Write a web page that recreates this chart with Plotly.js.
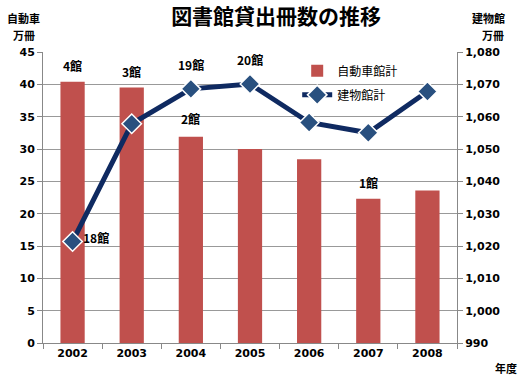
<!DOCTYPE html>
<html><head><meta charset="utf-8">
<script src="https://cdn.plot.ly/plotly-3.0.1.min.js"></script>
<style>body{margin:0;background:#fff}#c{width:521px;height:381px}</style>
</head><body><div id="c"></div>
<script>
const years = ['2002','2003','2004','2005','2006','2007','2008'];
const carLib = [40.4, 39.5, 31.9, 30.0, 28.4, 22.3, 23.6];
const bldLib = [1021.4, 1057.8, 1068.6, 1070.1, 1058.2, 1055.0, 1067.8];
const carCount = ['4館','3館','2館','','','1館',''];
const bldCount = ['18館','','19館','20館','','',''];

const F = '"DejaVu Sans", "Noto Sans CJK JP", sans-serif';
const J = '"Noto Sans CJK JP", sans-serif';

const traces = [
  {type:'bar', x:years, y:carLib, name:'自動車館計', marker:{color:'#c0504d'}, yaxis:'y', legendgroup:'a'},
  {type:'scatter', mode:'lines+markers', x:years, y:bldLib, name:'建物館計', yaxis:'y2', legendgroup:'b',
   line:{color:'#0f2a61', width:5},
   marker:{symbol:'diamond', size:15, color:'#29507f', line:{color:'#ffffff', width:1.5}}}
];

const ann = [];
carCount.forEach((t,i)=>{ if(t) ann.push({x:i, y:carLib[i], xref:'x', yref:'y', text:'<b>'+t+'</b>', showarrow:false, yanchor:'bottom', yshift:i===2?8:6, font:{family:J, size:12, color:'#000'}}); });
bldCount.forEach((t,i)=>{ if(t){
  if(i===0) ann.push({x:i, y:bldLib[i], xref:'x', yref:'y2', text:'<b>'+t+'</b>', showarrow:false, xanchor:'left', xshift:8, yshift:4, font:{family:J, size:12, color:'#000'}});
  else ann.push({x:i, y:bldLib[i], xref:'x', yref:'y2', text:'<b>'+t+'</b>', showarrow:false, yanchor:'bottom', yshift:14, font:{family:J, size:12, color:'#000'}});
}});
ann.push({xref:'paper', yref:'paper', x:-0.092, y:1.117, text:'<b>自動車</b>', showarrow:false, xanchor:'left', yanchor:'middle', font:{family:J, size:11, color:'#000'}});
ann.push({xref:'paper', yref:'paper', x:-0.078, y:1.058, text:'<b>万冊</b>', showarrow:false, xanchor:'left', yanchor:'middle', font:{family:J, size:11, color:'#000'}});
ann.push({xref:'paper', yref:'paper', x:1.031, y:1.117, text:'<b>建物館</b>', showarrow:false, xanchor:'left', yanchor:'middle', font:{family:J, size:11, color:'#000'}});
ann.push({xref:'paper', yref:'paper', x:1.055, y:1.058, text:'<b>万冊</b>', showarrow:false, xanchor:'left', yanchor:'middle', font:{family:J, size:11, color:'#000'}});
ann.push({xref:'paper', yref:'paper', x:1.087, y:-0.086, text:'<b>年度</b>', showarrow:false, xanchor:'left', yanchor:'middle', font:{family:J, size:11, color:'#000'}});

const layout = {
  width:521, height:381,
  margin:{l:43, r:64, t:52, b:38},
  paper_bgcolor:'#fff', plot_bgcolor:'#fff',
  title:{text:'<b>図書館貸出冊数の推移</b>', x:0.53, xanchor:'center', y:0.955, yanchor:'middle', font:{family:J, size:21, color:'#000'}},
  showlegend:true,
  legend:{x:0.614, y:0.985, xanchor:'left', yanchor:'top', bgcolor:'rgba(0,0,0,0)', font:{family:J, size:12, color:'#000'}, tracegroupgap:5, itemwidth:30},
  bargap:0.59,
  xaxis:{type:'category', range:[-0.5,6.5], showline:true, linecolor:'#888', ticks:'outside', tickson:'boundaries', ticklen:5, tickcolor:'#888',
    tickfont:{family:F, size:11, color:'#000', weight:'bold'}, showgrid:false},
  yaxis:{range:[0,45], dtick:5, showline:true, linecolor:'#888', ticks:'outside', ticklen:5, tickcolor:'#888',
    gridcolor:'#999', gridwidth:1, zeroline:false, tickfont:{family:F, size:11, color:'#000', weight:'bold'}},
  yaxis2:{range:[990,1080], dtick:10, overlaying:'y', side:'right', showline:true, linecolor:'#888', ticks:'outside', ticklen:5, tickcolor:'#888',
    showgrid:false, zeroline:false, tickformat:',d', tickfont:{family:F, size:11, color:'#000', weight:'bold'}},
  annotations:ann
};
Plotly.newPlot('c', traces, layout, {displayModeBar:false, staticPlot:true});
</script></body></html>
